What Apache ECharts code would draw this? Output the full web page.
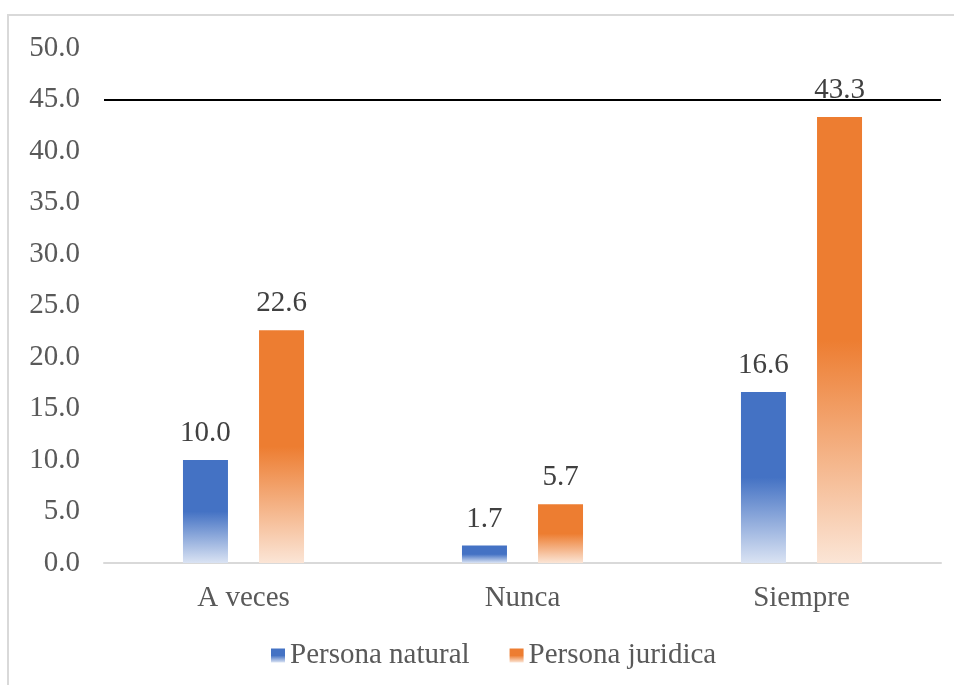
<!DOCTYPE html>
<html>
<head>
<meta charset="utf-8">
<script src="https://cdn.jsdelivr.net/npm/echarts@6/dist/echarts.min.js"></script>
<style>
  html, body { margin: 0; padding: 0; background: #fff; }
  #frame { position: absolute; left: 7px; top: 14px; width: 960px; height: 690px; border: 2px solid #d9d9d9; box-sizing: border-box; }
  #chart { position: absolute; left: 0; top: 0; width: 954px; height: 685px; }
</style>
</head>
<body>
<div id="frame"></div>
<div id="chart"></div>
<script>
// categorias y valores
const categories = ['A veces', 'Nunca', 'Siempre']
const naturalValues = [10.0, 1.7, 16.6]
const juridicaValues = [22.6, 5.7, 43.3]
const seriesNames = ['Persona natural', 'Persona juridica']
const refLineValue = 45

const fade = (solid, light) => new echarts.graphic.LinearGradient(0, 0, 0, 1, [
  { offset: 0, color: solid },
  { offset: 0.5, color: solid },
  { offset: 1, color: light }
])

const blueFill = fade('#4472c4', '#dae3f3')
const orangeFill = fade('#ed7d31', '#fbe5d6')

const labelStyle = {
  show: true,
  position: 'top',
  distance: 12,
  fontFamily: 'Liberation Serif',
  fontSize: 29,
  color: '#404040',
  formatter: p => p.value.toFixed(1)
}

const chart = echarts.init(document.getElementById('chart'))
chart.setOption({
  animation: false,
  textStyle: { fontFamily: 'Liberation Serif' },
  grid: { left: 104, right: 13, top: 48, bottom: 122 },
  legend: {
    bottom: 10,
    left: 266,
    itemWidth: 14,
    itemHeight: 14,
    itemGap: 40,
    itemTextGap: 8,
    icon: 'rect',
    textStyle: { fontFamily: 'Liberation Serif', fontSize: 29, color: '#595959' },
    data: seriesNames
  },
  xAxis: {
    type: 'category',
    data: categories,
    axisLine: { lineStyle: { color: '#d9d9d9', width: 2 } },
    axisTick: { show: false },
    axisLabel: { fontFamily: 'Liberation Serif', fontSize: 29, color: '#595959', margin: 21 }
  },
  yAxis: {
    type: 'value',
    min: 0,
    max: 50,
    interval: 5,
    axisLine: { show: false },
    axisTick: { show: false },
    splitLine: { show: false },
    axisLabel: {
      fontFamily: 'Liberation Serif',
      fontSize: 29,
      color: '#595959',
      margin: 24,
      formatter: v => v.toFixed(1)
    }
  },
  series: [
    {
      name: seriesNames[0],
      type: 'bar',
      data: naturalValues,
      barWidth: 45,
      barGap: '69%',
      itemStyle: { color: blueFill },
      label: labelStyle,
      markLine: {
        silent: true,
        symbol: 'none',
        label: { show: false },
        lineStyle: { color: '#000', width: 2, type: 'solid' },
        data: [{ yAxis: refLineValue }]
      }
    },
    {
      name: seriesNames[1],
      type: 'bar',
      data: juridicaValues,
      barWidth: 45,
      itemStyle: { color: orangeFill },
      label: labelStyle
    }
  ]
})
</script>
</body>
</html>
